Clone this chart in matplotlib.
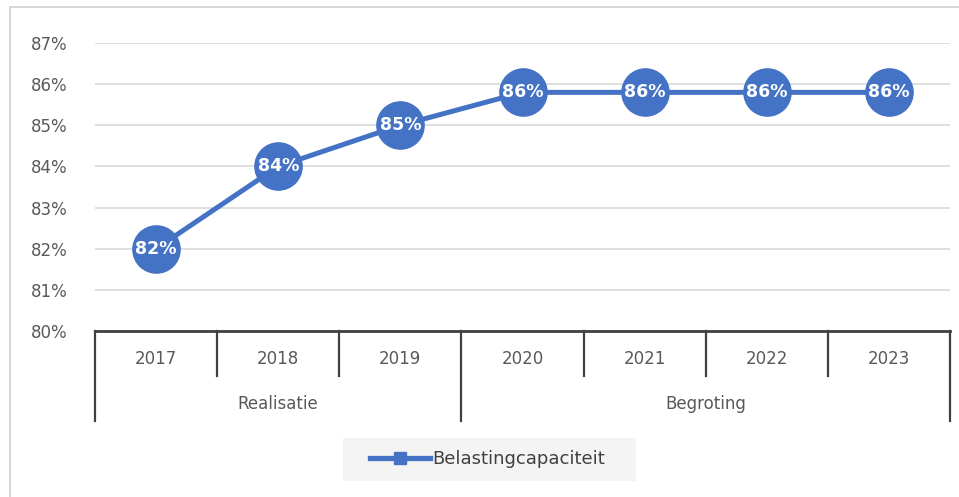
import numpy as np
import matplotlib
matplotlib.use('Agg')
import matplotlib.pyplot as plt
from matplotlib.patches import Rectangle
import matplotlib.transforms as mtransforms

years = ['2017', '2018', '2019', '2020', '2021', '2022', '2023']
groups = ['Realisatie', 'Begroting']
group_sizes = [3, 4]
values = [82.0, 84.0, 85.0, 85.8, 85.8, 85.8, 85.8]
series_name = 'Belastingcapaciteit'

BLUE = '#4472C4'
GRID = '#d9d9d9'
TXT = '#595959'
AXC = '#404040'

fig = plt.figure(figsize=(9.59, 4.97), dpi=100)
# outer chart frame
fig.patches.append(Rectangle((10 / 959, -0.1), 1.2, 1.1 - 7 / 497, transform=fig.transFigure,
                             fill=False, edgecolor='#d0d0d0', linewidth=1.2, zorder=-2))
# legend background box
fig.patches.append(Rectangle((343 / 959, 1 - 481 / 497), 293 / 959, 43 / 497,
                             transform=fig.transFigure, facecolor='#f4f4f4',
                             edgecolor='none', zorder=-2))

ax = fig.add_axes([95 / 959, 1 - 331 / 497, 855 / 959, (331 - 43) / 497])
ax.patch.set_alpha(0)
x = np.arange(len(years))

ax.plot(x, values, color=BLUE, linewidth=3.6, marker='o', markersize=34,
        markerfacecolor=BLUE, markeredgecolor=BLUE, zorder=3, label=series_name)
for xi, v in zip(x, values):
    ax.text(xi, v, f'{v:.0f}%', ha='center', va='center', color='white',
            fontsize=12.5, fontweight='bold', family='DejaVu Sans Condensed',
            zorder=4)

ax.set_xlim(-0.5, len(years) - 0.5)
ax.set_ylim(80, 87)
ax.set_yticks(np.arange(80, 88, 1))
ax.set_yticklabels([f'{t}%' for t in range(80, 88)])
ax.yaxis.grid(True, color=GRID, linewidth=1.2)
ax.set_axisbelow(True)
ax.tick_params(axis='y', length=0, pad=20, labelsize=12, labelcolor=TXT)

for s in ['top', 'right', 'left']:
    ax.spines[s].set_visible(False)
ax.spines['bottom'].set_color(AXC)
ax.spines['bottom'].set_linewidth(2)

# year labels
ax.set_xticks(x)
ax.set_xticklabels(years)
ax.tick_params(axis='x', length=0, pad=14, labelsize=12, labelcolor=TXT)

# category separators
trans = mtransforms.blended_transform_factory(ax.transData, ax.transAxes)
px_per_ax = (331 - 43)
short_y = -(376 - 331) / px_per_ax
long_y = -(421 - 331) / px_per_ax
bounds = np.cumsum([0] + group_sizes) - 0.5
for b in np.arange(-0.5, len(years), 1.0):
    bottom = long_y if np.any(np.isclose(b, bounds)) else short_y
    ax.plot([b, b], [0, bottom], color=AXC, linewidth=1.6, transform=trans, clip_on=False)

# group labels
start = 0
for g, n in zip(groups, group_sizes):
    mid = start + (n - 1) / 2
    ax.text(mid, -(404 - 331) / px_per_ax, g, transform=trans, ha='center', va='center',
            fontsize=12, color=TXT)
    start += n

leg = ax.legend(loc='center left', bbox_to_anchor=(354 / 959, 1 - 459.5 / 497),
                bbox_transform=fig.transFigure, frameon=False, fontsize=13,
                handlelength=3.3, handletextpad=0.15, labelcolor=AXC)
for h in leg.legend_handles:
    h.set_marker('s')
    h.set_markersize(9)
    h.set_linewidth(3.8)

fig.savefig('out.png', dpi=100)
